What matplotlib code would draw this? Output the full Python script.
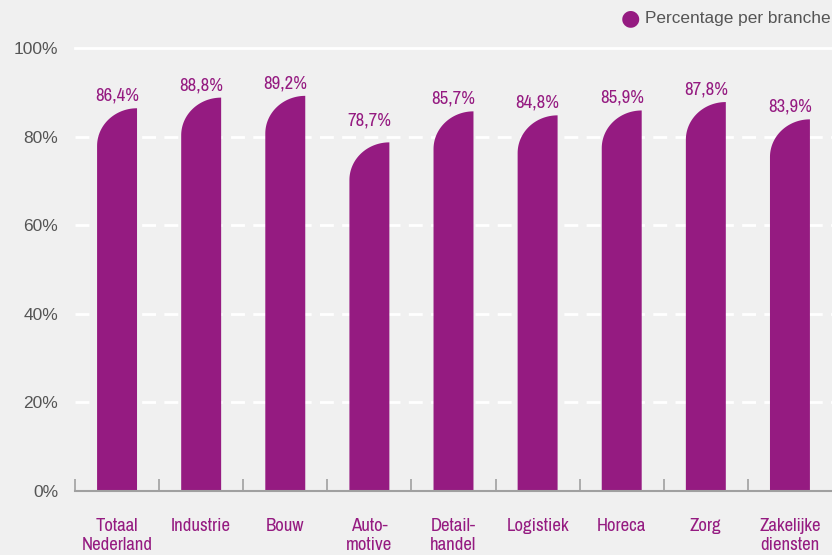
import numpy as np
import matplotlib
matplotlib.use("Agg")
import matplotlib.pyplot as plt
from matplotlib.patches import Polygon

categories = ["Totaal\nNederland", "Industrie", "Bouw", "Auto-\nmotive", "Detail-\nhandel",
              "Logistiek", "Horeca", "Zorg", "Zakelijke\ndiensten"]
values = [86.4, 88.8, 89.2, 78.7, 85.7, 84.8, 85.9, 87.8, 83.9]
value_labels = ["86,4%", "88,8%", "89,2%", "78,7%", "85,7%", "84,8%", "85,9%", "87,8%", "83,9%"]
yticks = [0, 20, 40, 60, 80, 100]
ytick_labels = ["0%", "20%", "40%", "60%", "80%", "100%"]
legend_label = "Percentage per branche"

BG = "#f0f0f0"
PURPLE = "#951b81"
sans = ["Liberation Sans", "DejaVu Sans"]
narrow = ["Archivo Narrow", "Roboto Condensed", "DejaVu Sans"]

W, H = 832, 555
fig = plt.figure(figsize=(W / 100, H / 100), dpi=100)
fig.patch.set_facecolor(BG)
ax_left, ax_right, ax_top, ax_bot = 75, 832, 48, 491
ax = fig.add_axes([ax_left / W, (H - ax_bot) / H, (ax_right - ax_left) / W, (ax_bot - ax_top) / H])
ax.set_facecolor(BG)
n = len(categories)
ax.set_xlim(-0.5, n - 0.5)
ax.set_ylim(0, 100)
for s in ax.spines.values():
    s.set_visible(False)

# gridlines
for yv in yticks[1:]:
    if yv == 100:
        ax.axhline(yv, color="white", lw=2, zorder=1, clip_on=False)
    else:
        ax.axhline(yv, color="white", lw=2, ls=(0, (5, 3)), zorder=1, clip_on=False)

# bars with rounded top-left corner
bw = 0.475
ry = 8.5
t = np.linspace(np.pi / 2, np.pi, 40)
for i, v in enumerate(values):
    x0, x1 = i - bw / 2, i + bw / 2
    cx, cy = x1, v - ry
    curve = np.column_stack([cx + bw * np.cos(t), cy + ry * np.sin(t)])
    verts = np.vstack([[[x0, 0], [x1, 0], [x1, v]], curve, [[x0, 0]]])
    ax.add_patch(Polygon(verts, closed=True, facecolor=PURPLE, edgecolor="none", zorder=3))
    # label sits above the bar, or above a gridline that passes just over the bar
    anchor, off = v, 3.3
    for g in yticks[1:]:
        if 0 < g - v < 5:
            anchor, off = g, 5.5
    ax.annotate(value_labels[i], (i, anchor), xytext=(0, off), textcoords="offset points",
                ha="center", va="bottom", color=PURPLE, fontsize=13.5, family=narrow)

# x axis baseline
ax.axhline(0, color="#a0a0a0", lw=1.5, zorder=4, clip_on=False)
ax.set_xticks(range(n))
ax.set_xticklabels(categories, color=PURPLE, fontsize=13.5, family=narrow, linespacing=1.22)
ax.tick_params(axis="x", length=0, pad=19.5)
ax.set_xticks(np.arange(-0.5, n - 0.5, 1), minor=True)
ax.tick_params(axis="x", which="minor", direction="in", length=9, width=1.2, color="#a0a0a0")

ax.set_yticks(yticks)
ax.set_yticklabels(ytick_labels, color="#555555", fontsize=12.5, family=sans)
ax.tick_params(axis="y", length=0, pad=12)

# legend
fig.text(630 / W, 1 - 18 / H, "\u25CF", color=PURPLE, fontsize=16, ha="center", va="center", family=["DejaVu Sans"])
fig.text(645 / W, 1 - 18 / H, legend_label, color="#555555", fontsize=12.4, ha="left", va="center", family=sans)

fig.savefig("out.png", dpi=100, facecolor=BG)
